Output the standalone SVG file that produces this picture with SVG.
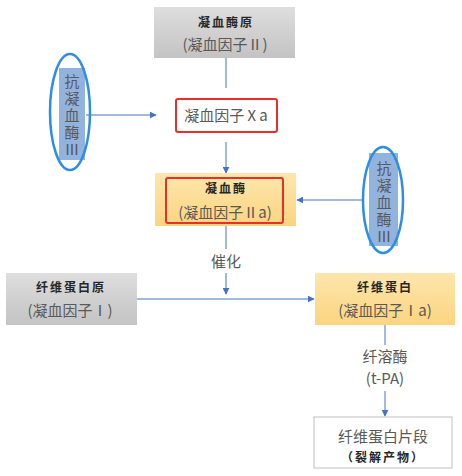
<svg xmlns="http://www.w3.org/2000/svg" width="462" height="476" viewBox="0 0 462 476">
<defs>
<linearGradient id="gray" x1="0" y1="0" x2="0" y2="1"><stop offset="0" stop-color="#dedede"/><stop offset="1" stop-color="#c3c3c3"/></linearGradient>
<linearGradient id="orange" x1="0" y1="0" x2="0" y2="1"><stop offset="0" stop-color="#fde6ad"/><stop offset="1" stop-color="#fbd47f"/></linearGradient>
<marker id="arr" viewBox="0 0 10 10" refX="9" refY="5" markerWidth="7" markerHeight="7" orient="auto" markerUnits="userSpaceOnUse"><path d="M0,0 L10,5 L0,10 z" fill="#4472c4"/></marker>
<style>
.t{font-family:"Noto Sans CJK SC","Noto Sans",sans-serif;font-size:15px;fill:#595959;text-anchor:middle}
.v{font-family:"Noto Sans CJK SC","Noto Sans",sans-serif;font-size:15px;fill:#595959;writing-mode:vertical-rl;text-orientation:upright;letter-spacing:2px}
.b{font-family:"Noto Sans CJK SC","Noto Sans",sans-serif;font-size:12px;font-weight:bold;fill:#262626;text-anchor:middle;letter-spacing:2px}
.ln{stroke:#4472c4;stroke-width:1;fill:none}
.ell{fill:none;stroke:#2e8ee6;stroke-width:2.5}
.blue{fill:#93b3df}
</style>
</defs>
<g id="connectors">
<line class="ln" x1="226" y1="58" x2="226" y2="88"/>
<line class="ln" x1="86" y1="115" x2="156" y2="115" marker-end="url(#arr)"/>
<line class="ln" x1="226" y1="142" x2="226" y2="173" marker-end="url(#arr)"/>
<line class="ln" x1="364" y1="200" x2="297" y2="200" marker-end="url(#arr)"/>
<line class="ln" x1="226" y1="226" x2="226" y2="249"/>
<line class="ln" x1="226" y1="273" x2="226" y2="294" marker-end="url(#arr)"/>
<line class="ln" x1="137" y1="299" x2="314" y2="299" marker-end="url(#arr)"/>
<line class="ln" x1="385" y1="325" x2="385" y2="345"/>
<line class="ln" x1="385" y1="391" x2="385" y2="416" marker-end="url(#arr)"/>
<text class="t" x="226" y="267">催化</text>
<text class="t" x="385" y="362">纤溶酶</text>
<text class="t" x="385" y="384">(t-PA)</text>
</g>
<g id="antithrombin-left">
<rect class="blue" x="59" y="68" width="26" height="92"/>
<ellipse class="ell" cx="70" cy="112" rx="20" ry="58"/>
<text class="v" x="72" y="74">抗凝血酶Ⅲ</text>
</g>
<g id="prothrombin">
<rect x="154" y="7" width="141" height="51" fill="url(#gray)"/>
<text class="b" x="226" y="27">凝血酶原</text>
<text class="t" x="225" y="50">(凝血因子Ⅱ)</text>
</g>
<g id="factor-xa">
<rect x="176" y="99" width="101" height="33" rx="2" fill="#fff" stroke="#e8302a" stroke-width="2"/>
<text class="t" x="226" y="121">凝血因子Ⅹa</text>
</g>
<g id="thrombin">
<rect x="155" y="173" width="141" height="53" fill="url(#orange)"/>
<rect x="166" y="178" width="117" height="45" rx="2" fill="none" stroke="#e8302a" stroke-width="2"/>
<text class="b" x="226" y="193">凝血酶</text>
<text class="t" x="225" y="218">(凝血因子Ⅱa)</text>
</g>
<g id="antithrombin-right">
<rect class="blue" x="369" y="153" width="29" height="93"/>
<ellipse class="ell" cx="383" cy="200" rx="20" ry="53"/>
<text class="v" x="384" y="161">抗凝血酶Ⅲ</text>
</g>
<g id="fibrinogen">
<rect x="6" y="273" width="131" height="52" fill="url(#gray)"/>
<text class="b" x="71" y="292">纤维蛋白原</text>
<text class="t" x="70" y="316">(凝血因子Ⅰ)</text>
</g>
<g id="fibrin">
<rect x="315" y="273" width="140" height="52" fill="url(#orange)"/>
<text class="b" x="385" y="292">纤维蛋白</text>
<text class="t" x="385" y="316">(凝血因子Ⅰa)</text>
</g>
<g id="fragments">
<rect x="314" y="417" width="138" height="51" fill="#fff" stroke="#bfbfbf" stroke-width="1"/>
<text class="t" x="383" y="442">纤维蛋白片段</text>
<text class="b" x="383" y="462">（裂解产物）</text>
</g>
</svg>
